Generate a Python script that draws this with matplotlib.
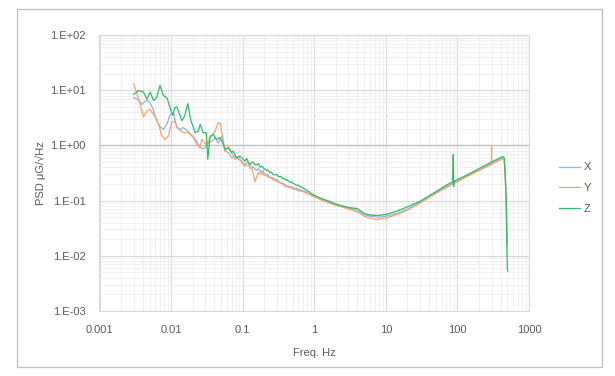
import numpy as np
import matplotlib
matplotlib.use("Agg")
import matplotlib.pyplot as plt
from matplotlib.ticker import LogLocator, FixedLocator, FixedFormatter, NullFormatter
from matplotlib.patches import Rectangle

# ---- data (freq in Hz, PSD in uG/sqrt(Hz)) ---------------------------------
x_freq = [0.0030, 0.0033, 0.0036, 0.0039, 0.0043, 0.0046, 0.0051, 0.0056, 0.0060,
          0.0065, 0.0070, 0.0078, 0.0087, 0.0097, 0.0108, 0.0120, 0.0134, 0.0147,
          0.0157, 0.0180, 0.0200, 0.0228, 0.0250, 0.0270, 0.0300, 0.0330, 0.0370,
          0.0410, 0.0457, 0.0510, 0.0540, 0.0566, 0.063, 0.070, 0.078, 0.087,
          0.097, 0.103, 0.108, 0.114, 0.120, 0.127, 0.134, 0.141, 0.149, 0.157,
          0.165, 0.175, 0.184, 0.192, 0.200, 0.216, 0.225, 0.235, 0.245, 0.254,
          0.265, 0.283, 0.30, 0.32, 0.34, 0.36, 0.38, 0.40, 0.42, 0.45, 0.48,
          0.50, 0.53, 0.56, 0.60, 0.63, 0.67, 0.70, 0.75, 0.80, 0.85, 0.90, 0.95,
          1.0, 1.15, 1.3, 1.5, 1.7, 2.0, 2.3, 2.7, 3.0, 3.5, 4.0, 4.5,
          5.0, 6.0, 7.0, 8.0, 10, 15, 20, 30, 50, 70, 100, 150, 200, 300, 430,
          450, 465, 480, 490, 500]
x_psd = [7.3, 7.0, 6.4, 5.5, 6.2, 6.6, 5.9, 4.6, 3.4,
         2.6, 2.2, 1.95, 2.4, 3.6, 3.9, 2.1, 1.95, 2.1,
         2.0, 1.7, 1.48, 1.2, 0.97, 0.88, 0.90, 1.10, 1.20,
         1.38, 1.10, 1.47, 1.04, 0.79, 0.74, 0.60, 0.64, 0.56,
         0.52, 0.47, 0.45, 0.50, 0.48, 0.42, 0.39, 0.41, 0.37, 0.35,
         0.38, 0.34, 0.33, 0.35, 0.31, 0.29, 0.30, 0.27, 0.26, 0.25,
         0.26, 0.235, 0.24, 0.22, 0.21, 0.205, 0.20, 0.19, 0.185, 0.18, 0.178,
         0.175, 0.165, 0.17, 0.158, 0.16, 0.152, 0.15, 0.146, 0.14, 0.133, 0.128, 0.124,
         0.12, 0.112, 0.105, 0.098, 0.092, 0.085, 0.080, 0.076, 0.074, 0.070, 0.066, 0.061,
         0.056, 0.052, 0.051, 0.050, 0.052, 0.060, 0.070, 0.092, 0.14, 0.18, 0.23, 0.30, 0.36, 0.47, 0.60,
         0.58, 0.30, 0.10, 0.03, 0.015]

y_freq = [0.0030, 0.0033, 0.0037, 0.0041, 0.0046, 0.0051, 0.0057, 0.0062, 0.0067,
          0.0074, 0.0082, 0.0092, 0.0102, 0.0111, 0.0127, 0.0149, 0.0175, 0.0205,
          0.0228, 0.0250, 0.0270, 0.0300, 0.0330, 0.0370, 0.0410, 0.0457, 0.0490,
          0.0510, 0.0540, 0.0566, 0.063, 0.070, 0.078, 0.087, 0.097, 0.102, 0.108,
          0.114, 0.120, 0.127, 0.134, 0.141, 0.149, 0.157, 0.165, 0.175, 0.184,
          0.192, 0.200, 0.216, 0.225, 0.235, 0.254, 0.265, 0.283, 0.30, 0.32, 0.34,
          0.36, 0.38, 0.40, 0.42, 0.45, 0.48, 0.50, 0.53, 0.56, 0.60, 0.63, 0.67,
          0.70, 0.75, 0.80, 0.85, 0.90, 0.95, 1.0, 1.15, 1.3, 1.5, 1.7,
          2.0, 2.3, 2.7, 3.0, 3.5, 4.0, 4.5, 5.0, 6.0, 7.0, 8.0, 10, 15, 20,
          30, 50, 70, 100, 150, 200, 299, 300, 301, 430, 450, 465, 480, 490, 500]
y_psd = [13.0, 9.0, 5.5, 3.3, 4.2, 4.5, 3.6, 3.0, 2.4,
         1.52, 1.28, 1.48, 2.6, 2.75, 1.95, 1.7, 1.7, 1.38,
         1.04, 0.91, 1.30, 1.05, 1.20, 1.48, 1.82, 2.57, 2.50,
         1.70, 1.20, 0.79, 0.97, 0.74, 0.56, 0.64, 0.49, 0.46, 0.42,
         0.44, 0.45, 0.38, 0.40, 0.30, 0.22, 0.27, 0.32, 0.30, 0.33,
         0.30, 0.29, 0.28, 0.265, 0.27, 0.26, 0.24, 0.23, 0.225, 0.215, 0.205,
         0.20, 0.19, 0.18, 0.178, 0.17, 0.168, 0.165, 0.158, 0.16, 0.15, 0.15, 0.146,
         0.145, 0.14, 0.135, 0.13, 0.125, 0.12, 0.117, 0.108, 0.100, 0.094, 0.088,
         0.082, 0.078, 0.074, 0.071, 0.066, 0.062, 0.057, 0.052, 0.048, 0.046, 0.046, 0.048, 0.057, 0.067,
         0.090, 0.135, 0.172, 0.22, 0.29, 0.35, 0.45, 1.0, 0.46, 0.57, 0.55, 0.29, 0.10, 0.03, 0.015]

z_freq = [0.0030, 0.0035, 0.0041, 0.0046, 0.0051, 0.0057, 0.0063, 0.0070, 0.0078,
          0.0088, 0.0100, 0.0106, 0.0112, 0.0120, 0.0130, 0.0142, 0.0155, 0.0171,
          0.0188, 0.0205, 0.0216, 0.024, 0.0255, 0.028, 0.031, 0.0326, 0.035,
          0.039, 0.043, 0.048, 0.054, 0.0566, 0.063, 0.070, 0.074, 0.082, 0.092,
          0.102, 0.108, 0.114, 0.120, 0.127, 0.134, 0.141, 0.149, 0.157, 0.166,
          0.175, 0.183, 0.190, 0.198, 0.206, 0.215, 0.225, 0.24, 0.25, 0.265, 0.283,
          0.30, 0.32, 0.34, 0.36, 0.38, 0.40, 0.42, 0.45, 0.48, 0.50, 0.53, 0.56,
          0.60, 0.63, 0.67, 0.70, 0.75, 0.80, 0.85, 0.90, 0.95, 1.0, 1.15, 1.3,
          1.4, 1.5, 1.6, 1.7, 1.85, 2.0, 2.3, 2.7, 3.0, 3.5, 4.0, 4.5, 5.0, 6.0, 7.0, 8.0, 10,
          15, 20, 30, 50, 70, 86, 87.5, 88.5, 90, 100, 150, 200, 300, 430, 450,
          465, 480, 490, 500, 510]
z_psd = [8.4, 9.8, 9.3, 6.9, 9.2, 6.5, 7.4, 12.2, 8.0,
         7.2, 4.2, 3.5, 4.8, 5.0, 3.8, 2.8, 3.4, 5.7,
         2.9, 2.1, 1.7, 1.8, 2.4, 1.7, 1.7, 0.56, 1.47,
         1.58, 1.28, 1.38, 1.04, 0.85, 0.90, 0.74, 0.79, 0.60, 0.64,
         0.56, 0.52, 0.58, 0.50, 0.45, 0.49, 0.50, 0.45, 0.44, 0.47,
         0.40, 0.42, 0.41, 0.38, 0.37, 0.35, 0.36, 0.32, 0.33, 0.30, 0.29,
         0.30, 0.27, 0.275, 0.25, 0.255, 0.235, 0.24, 0.215, 0.22, 0.205, 0.20, 0.19,
         0.19, 0.18, 0.175, 0.168, 0.16, 0.15, 0.145, 0.135, 0.13, 0.125, 0.115, 0.107,
         0.104, 0.100, 0.098, 0.094, 0.090, 0.087, 0.082, 0.078, 0.075, 0.073, 0.072, 0.064, 0.058, 0.055, 0.054, 0.054, 0.056,
         0.066, 0.077, 0.097, 0.145, 0.19, 0.22, 0.68, 0.18, 0.225, 0.24, 0.31, 0.38, 0.50, 0.63, 0.60,
         0.30, 0.10, 0.015, 0.0055, 0.0053]

x_ticks = [0.001, 0.01, 0.1, 1, 10, 100, 1000]
x_tick_labels = ["0.001", "0.01", "0.1", "1", "10", "100", "1000"]
y_ticks = [1e-3, 1e-2, 1e-1, 1e0, 1e1, 1e2]
y_tick_labels = ["1.E-03", "1.E-02", "1.E-01", "1.E+00", "1.E+01", "1.E+02"]

# ---- style ------------------------------------------------------------------
plt.rcParams["font.family"] = ["Liberation Sans", "DejaVu Sans"]
TEXT = "#595959"
COLORS = {"X": "#8DB4E2", "Y": "#F4A56E", "Z": "#33BB6A"}

fig = plt.figure(figsize=(6.15, 3.76), dpi=100)
ax = fig.add_axes([99.5 / 615, 1 - 311 / 376, 429.5 / 615, 276 / 376])

# outer chart frame
fig.patches.append(Rectangle((17 / 615, 1 - 367 / 376), 585 / 615, 358 / 376,
                             transform=fig.transFigure, fill=False,
                             edgecolor="#BFBFBF", linewidth=0.9))

ax.plot(x_freq, x_psd, color=COLORS["X"], lw=0.9, label="X")
ax.plot(y_freq, y_psd, color=COLORS["Y"], lw=0.9, label="Y")
ax.plot(z_freq, z_psd, color=COLORS["Z"], lw=0.9, label="Z")

ax.set_xscale("log")
ax.set_yscale("log")
ax.set_xlim(1e-3, 1e3)
ax.set_ylim(1e-3, 1e2)

ax.xaxis.set_major_locator(FixedLocator(x_ticks))
ax.xaxis.set_major_formatter(FixedFormatter(x_tick_labels))
ax.yaxis.set_major_locator(FixedLocator(y_ticks))
ax.yaxis.set_major_formatter(FixedFormatter(y_tick_labels))
ax.xaxis.set_minor_locator(LogLocator(base=10, subs=np.arange(2, 10), numticks=20))
ax.yaxis.set_minor_locator(LogLocator(base=10, subs=np.arange(2, 10), numticks=20))
ax.xaxis.set_minor_formatter(NullFormatter())
ax.yaxis.set_minor_formatter(NullFormatter())

ax.tick_params(which="both", length=0, labelsize=8, labelcolor=TEXT)
ax.tick_params(axis="y", pad=10)
ax.tick_params(axis="x", pad=10)

ax.grid(True, which="minor", color="#F0F0F0", lw=0.8)
ax.grid(True, which="major", color="#D9D9D9", lw=0.8)
ax.axhline(1.0, color="#BFBFBF", lw=0.9, zorder=1.5)
ax.set_axisbelow(True)
for s in ax.spines.values():
    s.set_color("#D9D9D9")
    s.set_linewidth(0.8)

ax.set_xlabel("Freq. Hz", fontsize=8, color=TEXT)
ax.set_ylabel("PSD μG/√Hz", fontsize=8, color=TEXT)
ax.xaxis.set_label_coords(0.5, -0.135)
ax.yaxis.set_label_coords(-0.125, 0.5)

fig.legend(loc="center left", bbox_to_anchor=(559 / 615, 1 - 188 / 376),
           frameon=False, fontsize=8, labelcolor=TEXT, handlelength=1.9,
           handletextpad=0.3, labelspacing=0.95, borderpad=0, borderaxespad=0)

fig.savefig("out.png", dpi=100)
